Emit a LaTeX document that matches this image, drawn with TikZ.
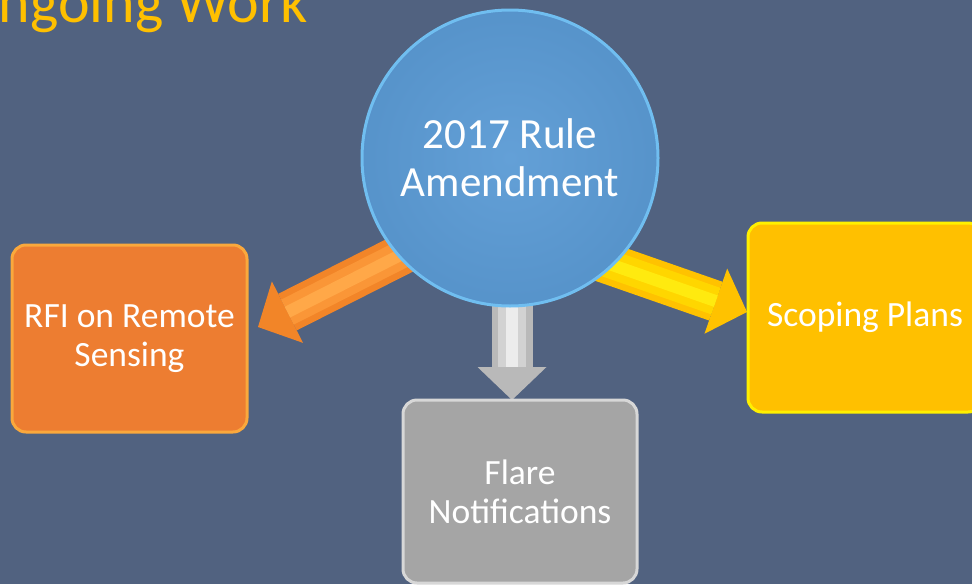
\documentclass[tikz,border=0pt]{standalone}
\usepackage{fontspec}
\setmainfont{Carlito}
\usetikzlibrary{arrows.meta}
\definecolor{slate}{RGB}{81,98,128}
\definecolor{titleyel}{RGB}{255,192,0}
\definecolor{ballblue}{RGB}{91,155,213}
\definecolor{ballrim}{RGB}{112,190,240}
\definecolor{boxorange}{RGB}{237,125,49}
\definecolor{rimorange}{RGB}{250,168,60}
\definecolor{boxgray}{RGB}{165,165,165}
\definecolor{rimgray}{RGB}{215,215,215}
\definecolor{boxyellow}{RGB}{255,192,0}
\definecolor{rimyellow}{RGB}{255,240,0}
\definecolor{arrorange}{RGB}{242,133,40}
\definecolor{midorange}{RGB}{250,150,55}
\definecolor{hiorange}{RGB}{255,168,72}
\definecolor{arryellow}{RGB}{255,194,0}
\definecolor{midyellow}{RGB}{255,214,0}
\definecolor{hiyellow}{RGB}{255,234,15}
\definecolor{arrgray}{RGB}{185,185,185}
\definecolor{midgray}{RGB}{210,210,210}
\definecolor{higray}{RGB}{236,236,236}

\begin{document}
\begin{tikzpicture}[x=1pt,y=-1pt,
  box/.style={rounded corners=14pt,text=white,align=center,line width=3pt,
    font=\fontsize{35.5}{39}\selectfont},
  fat/.style={line width=41pt,-{Triangle[length=33pt,width=69pt,line width=0pt]}},
  midshine/.style={line width=28pt,shorten >=33pt},
  shine/.style={line width=12pt,shorten >=33pt}]

\clip (0,0) rectangle (972,584);
\fill[slate] (0,0) rectangle (972,584);

\node(title) at (-41,22)[anchor=base west,inner sep=0pt,text=titleyel,
  font=\fontsize{60}{62}\selectfont]{Ongoing Work};

% free ends of the three fat arrows
\coordinate(rfi tail) at (436,237);
\coordinate(rfi tip) at (258,327);
\coordinate(scope tail) at (549,243);
\coordinate(scope tip) at (747,312);
\coordinate(flare tail) at (512,280);
\coordinate(flare tip) at (512,400);

\draw[fat,arrorange] (rfi tail) -- (rfi tip);
\draw[midshine,midorange] (rfi tail) -- (rfi tip);
\draw[shine,hiorange] (rfi tail) -- (rfi tip);
\draw[fat,arryellow] (scope tail) -- (scope tip);
\draw[midshine,midyellow] (scope tail) -- (scope tip);
\draw[shine,hiyellow] (scope tail) -- (scope tip);
\draw[fat,arrgray] (flare tail) -- (flare tip);
\draw[midshine,midgray] (flare tail) -- (flare tip);
\draw[shine,higray] (flare tail) -- (flare tip);

\node(amend) at (510,158)[circle,minimum size=296pt,inner color=ballblue!95!white,
  outer color=ballblue!95!black,draw=ballrim,line width=3pt,text=white,align=center,
  font=\fontsize{43}{48}\selectfont]{2017 Rule\\Amendment};

\node(rfi) at (129.5,338.5)[box,minimum width=235pt,minimum height=187pt,
  fill=boxorange,draw=rimorange]{RFI on Remote\\Sensing};
\node(flare) at (520,491.5)[box,minimum width=234pt,minimum height=183pt,
  fill=boxgray,draw=rimgray]{Flare\\Notifications};
\node(scope) at (865,317.5)[box,minimum width=234pt,minimum height=189pt,
  fill=boxyellow,draw=rimyellow]{Scoping Plans};

\end{tikzpicture}
\end{document}
